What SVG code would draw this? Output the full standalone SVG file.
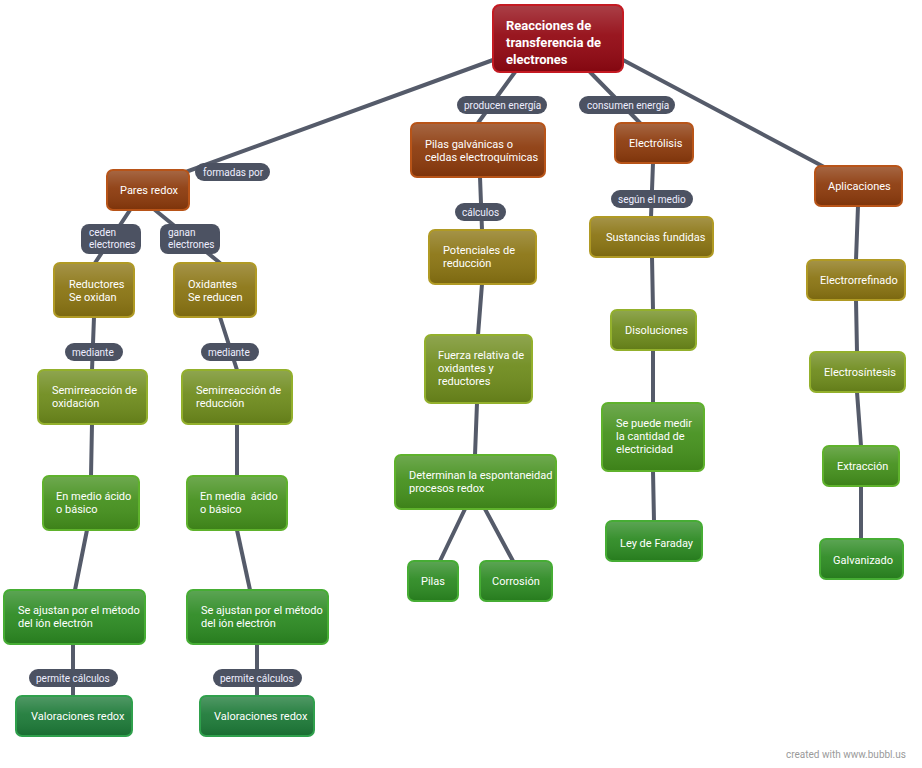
<svg xmlns="http://www.w3.org/2000/svg" width="922" height="768" viewBox="0 0 922 768">
<style>
text{font-family:Roboto,"Liberation Sans",sans-serif;font-size:11px;fill:#fff}
.e line{stroke:#555b6a;stroke-width:4;stroke-linecap:round}
.n rect.b{stroke-width:2}
.root{fill:#920812;stroke:#c41a22}
.br{fill:#8c3a0c;stroke:#b85418}
.ol{fill:#8a7412;stroke:#b09a24}
.og{fill:#6e8b1c;stroke:#93b02c}
.gr{fill:#44901c;stroke:#5fb22c}
.g2{fill:#2c8a22;stroke:#46ad34}
.dg{fill:#1d7a38;stroke:#2fa04c}
.p{fill:#4c5262}
.l text{font-size:10px;fill:#eef}
</style>
<defs>
<linearGradient id="gl" x1="0" y1="0" x2="0" y2="1"><stop offset="0" stop-color="#fff" stop-opacity="0.22"/><stop offset="0.45" stop-color="#fff" stop-opacity="0.06"/><stop offset="1" stop-color="#000" stop-opacity="0.1"/></linearGradient>
</defs>
<rect width="922" height="768" fill="#fff"/>
<g class="e">
<line x1="493" y1="60" x2="150" y2="185"/><line x1="515" y1="72" x2="478" y2="123"/><line x1="590" y1="72" x2="640" y2="123"/><line x1="623" y1="60" x2="858" y2="185"/>
<line x1="130" y1="210" x2="95" y2="263"/><line x1="155" y1="210" x2="220" y2="263"/>
<line x1="94" y1="317" x2="92" y2="370"/><line x1="220" y1="317" x2="237" y2="370"/>
<line x1="92" y1="424" x2="91" y2="476"/><line x1="237" y1="424" x2="237" y2="476"/>
<line x1="87" y1="530" x2="75" y2="590"/><line x1="237" y1="530" x2="250" y2="590"/>
<line x1="73" y1="644" x2="73" y2="696"/><line x1="257" y1="644" x2="257" y2="696"/>
<line x1="480" y1="177" x2="482" y2="230"/><line x1="482" y1="284" x2="478" y2="335"/><line x1="477" y1="403" x2="475" y2="455"/>
<line x1="465" y1="509" x2="440" y2="561"/><line x1="485" y1="509" x2="513" y2="561"/>
<line x1="653" y1="163" x2="651" y2="217"/><line x1="652" y1="257" x2="653" y2="310"/><line x1="653" y1="350" x2="653" y2="403"/><line x1="653" y1="471" x2="654" y2="521"/>
<line x1="858" y1="206" x2="856" y2="260"/><line x1="856" y1="300" x2="857" y2="352"/><line x1="857" y1="392" x2="861" y2="446"/><line x1="861" y1="486" x2="861" y2="539"/>
</g>
<g class="l">
<rect class="p" x="195" y="163" width="75" height="18" rx="9"/><text x="203" y="176">formadas por</text>
<rect class="p" x="457" y="96" width="90" height="18" rx="9"/><text x="464" y="109">producen energía</text>
<rect class="p" x="579" y="96" width="96" height="18" rx="9"/><text x="587" y="109">consumen energía</text>
<rect class="p" x="81" y="224" width="60" height="30" rx="8"/><text x="89" y="236">ceden</text><text x="89" y="248">electrones</text>
<rect class="p" x="160" y="224" width="60" height="30" rx="8"/><text x="168" y="236">ganan</text><text x="168" y="248">electrones</text>
<rect class="p" x="65" y="343" width="58" height="18" rx="9"/><text x="72" y="356">mediante</text>
<rect class="p" x="201" y="343" width="58" height="18" rx="9"/><text x="208" y="356">mediante</text>
<rect class="p" x="455" y="203" width="51" height="18" rx="9"/><text x="462" y="216">cálculos</text>
<rect class="p" x="611" y="190" width="82" height="18" rx="9"/><text x="618" y="203">según el medio</text>
<rect class="p" x="29" y="669" width="89" height="18" rx="9"/><text x="36" y="682">permite cálculos</text>
<rect class="p" x="213" y="669" width="89" height="18" rx="9"/><text x="220" y="682">permite cálculos</text>
</g>
<g class="n">
<g id="root"><rect class="b root" x="493" y="5" width="130" height="67" rx="7"/><rect x="494" y="6" width="128" height="65" rx="6" fill="url(#gl)"/><text x="506" y="30" style="font-weight:bold;font-size:13px">Reacciones de</text><text x="506" y="47" style="font-weight:bold;font-size:13px">transferencia de</text><text x="506" y="64" style="font-weight:bold;font-size:13px">electrones</text></g>
<g id="pares"><rect class="b br" x="107" y="170" width="82" height="40" rx="6"/><rect x="108" y="171" width="80" height="38" rx="5" fill="url(#gl)"/><text x="120" y="194">Pares redox</text></g>
<g id="pilasg"><rect class="b br" x="411" y="123" width="134" height="54" rx="6"/><rect x="412" y="124" width="132" height="52" rx="5" fill="url(#gl)"/><text x="425" y="148">Pilas galvánicas o</text><text x="425" y="161">celdas electroquímicas</text></g>
<g id="electrolisis"><rect class="b br" x="615" y="123" width="78" height="40" rx="6"/><rect x="616" y="124" width="76" height="38" rx="5" fill="url(#gl)"/><text x="629" y="147">Electrólisis</text></g>
<g id="aplicaciones"><rect class="b br" x="815" y="166" width="87" height="40" rx="6"/><rect x="816" y="167" width="85" height="38" rx="5" fill="url(#gl)"/><text x="828" y="190">Aplicaciones</text></g>
<g id="reductores"><rect class="b ol" x="54" y="263" width="80" height="54" rx="6"/><rect x="55" y="264" width="78" height="52" rx="5" fill="url(#gl)"/><text x="69" y="288">Reductores</text><text x="69" y="301">Se oxidan</text></g>
<g id="oxidantes"><rect class="b ol" x="174" y="263" width="82" height="54" rx="6"/><rect x="175" y="264" width="80" height="52" rx="5" fill="url(#gl)"/><text x="188" y="288">Oxidantes</text><text x="188" y="301">Se reducen</text></g>
<g id="potenciales"><rect class="b ol" x="429" y="230" width="107" height="54" rx="6"/><rect x="430" y="231" width="105" height="52" rx="5" fill="url(#gl)"/><text x="443" y="254">Potenciales de</text><text x="443" y="267">reducción</text></g>
<g id="sustancias"><rect class="b ol" x="590" y="217" width="123" height="40" rx="6"/><rect x="591" y="218" width="121" height="38" rx="5" fill="url(#gl)"/><text x="606" y="241">Sustancias fundidas</text></g>
<g id="electrorrefinado"><rect class="b ol" x="807" y="260" width="98" height="40" rx="6"/><rect x="808" y="261" width="96" height="38" rx="5" fill="url(#gl)"/><text x="820" y="284">Electrorrefinado</text></g>
<g id="semiox"><rect class="b og" x="38" y="370" width="109" height="54" rx="6"/><rect x="39" y="371" width="107" height="52" rx="5" fill="url(#gl)"/><text x="52" y="394">Semirreacción de</text><text x="52" y="407">oxidación</text></g>
<g id="semired"><rect class="b og" x="182" y="370" width="110" height="54" rx="6"/><rect x="183" y="371" width="108" height="52" rx="5" fill="url(#gl)"/><text x="196" y="394">Semirreacción de</text><text x="196" y="407">reducción</text></g>
<g id="fuerza"><rect class="b og" x="425" y="335" width="107" height="68" rx="6"/><rect x="426" y="336" width="105" height="66" rx="5" fill="url(#gl)"/><text x="438" y="359">Fuerza relativa de</text><text x="438" y="372">oxidantes y</text><text x="438" y="385">reductores</text></g>
<g id="disoluciones"><rect class="b og" x="611" y="310" width="85" height="40" rx="6"/><rect x="612" y="311" width="83" height="38" rx="5" fill="url(#gl)"/><text x="625" y="334">Disoluciones</text></g>
<g id="electrosintesis"><rect class="b og" x="810" y="352" width="95" height="40" rx="6"/><rect x="811" y="353" width="93" height="38" rx="5" fill="url(#gl)"/><text x="824" y="376">Electrosíntesis</text></g>
<g id="medio1"><rect class="b gr" x="43" y="476" width="96" height="54" rx="6"/><rect x="44" y="477" width="94" height="52" rx="5" fill="url(#gl)"/><text x="56" y="500">En medio ácido</text><text x="56" y="513">o básico</text></g>
<g id="medio2"><rect class="b gr" x="187" y="476" width="100" height="54" rx="6"/><rect x="188" y="477" width="98" height="52" rx="5" fill="url(#gl)"/><text x="200" y="500" xml:space="preserve">En media  ácido</text><text x="200" y="513">o básico</text></g>
<g id="determinan"><rect class="b gr" x="395" y="455" width="161" height="54" rx="6"/><rect x="396" y="456" width="159" height="52" rx="5" fill="url(#gl)"/><text x="409" y="479">Determinan la espontaneidad</text><text x="409" y="492">procesos redox</text></g>
<g id="medir"><rect class="b gr" x="602" y="403" width="102" height="68" rx="6"/><rect x="603" y="404" width="100" height="66" rx="5" fill="url(#gl)"/><text x="616" y="427">Se puede medir</text><text x="616" y="440">la cantidad de</text><text x="616" y="453">electricidad</text></g>
<g id="extraccion"><rect class="b gr" x="823" y="446" width="76" height="40" rx="6"/><rect x="824" y="447" width="74" height="38" rx="5" fill="url(#gl)"/><text x="837" y="470">Extracción</text></g>
<g id="ajustan1"><rect class="b g2" x="4" y="590" width="141" height="54" rx="6"/><rect x="5" y="591" width="139" height="52" rx="5" fill="url(#gl)"/><text x="18" y="614">Se ajustan por el método</text><text x="18" y="627">del ión electrón</text></g>
<g id="ajustan2"><rect class="b g2" x="187" y="590" width="141" height="54" rx="6"/><rect x="188" y="591" width="139" height="52" rx="5" fill="url(#gl)"/><text x="201" y="614">Se ajustan por el método</text><text x="201" y="627">del ión electrón</text></g>
<g id="pilas"><rect class="b g2" x="408" y="561" width="50" height="40" rx="6"/><rect x="409" y="562" width="48" height="38" rx="5" fill="url(#gl)"/><text x="421" y="585">Pilas</text></g>
<g id="corrosion"><rect class="b g2" x="480" y="561" width="72" height="40" rx="6"/><rect x="481" y="562" width="70" height="38" rx="5" fill="url(#gl)"/><text x="492" y="585">Corrosión</text></g>
<g id="faraday"><rect class="b g2" x="606" y="521" width="96" height="40" rx="6"/><rect x="607" y="522" width="94" height="38" rx="5" fill="url(#gl)"/><text x="620" y="547">Ley de Faraday</text></g>
<g id="galvanizado"><rect class="b g2" x="820" y="539" width="83" height="40" rx="6"/><rect x="821" y="540" width="81" height="38" rx="5" fill="url(#gl)"/><text x="833" y="564">Galvanizado</text></g>
<g id="valor1"><rect class="b dg" x="16" y="696" width="116" height="40" rx="6"/><rect x="17" y="697" width="114" height="38" rx="5" fill="url(#gl)"/><text x="31" y="720">Valoraciones redox</text></g>
<g id="valor2"><rect class="b dg" x="200" y="696" width="114" height="40" rx="6"/><rect x="201" y="697" width="112" height="38" rx="5" fill="url(#gl)"/><text x="214" y="720">Valoraciones redox</text></g>
</g>
<text x="786" y="758" style="fill:#9a9a9a;font-size:10px">created with www.bubbl.us</text>
</svg>
